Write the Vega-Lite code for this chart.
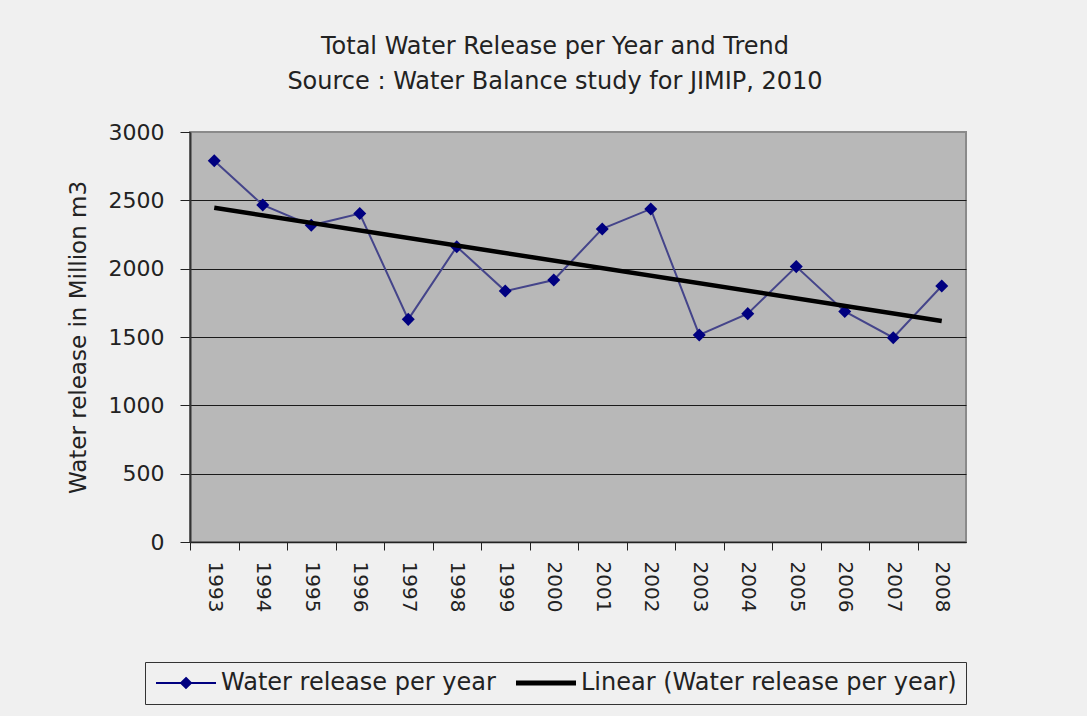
{
  "$schema": "https://vega.github.io/schema/vega-lite/v6.json",
  "autosize": "none",
  "width": 776,
  "height": 410,
  "padding": {"left": 190, "top": 132, "right": 121, "bottom": 174},
  "background": "#f0f0f0",
  "config": {
    "font": "DejaVu Sans",
    "view": {"fill": "#b8b8b8", "stroke": "#8a8a8a", "strokeWidth": 2}
  },
  "title": {
    "text": ["Total Water Release per Year and Trend", "Source : Water Balance study for JIMIP, 2010"],
    "fontSize": 24,
    "fontWeight": "normal",
    "color": "#222222",
    "lineHeight": 35,
    "offset": 27,
    "dx": -23,
    "anchor": "middle"
  },
  "data": {
    "values": [
      {"year": 1993, "value": 2790},
      {"year": 1994, "value": 2466},
      {"year": 1995, "value": 2317},
      {"year": 1996, "value": 2403},
      {"year": 1997, "value": 1629},
      {"year": 1998, "value": 2161},
      {"year": 1999, "value": 1836},
      {"year": 2000, "value": 1917},
      {"year": 2001, "value": 2291},
      {"year": 2002, "value": 2437},
      {"year": 2003, "value": 1515},
      {"year": 2004, "value": 1671},
      {"year": 2005, "value": 2015},
      {"year": 2006, "value": 1687},
      {"year": 2007, "value": 1495},
      {"year": 2008, "value": 1873}
    ]
  },
  "encoding": {
    "x": {
      "field": "year",
      "type": "quantitative",
      "scale": {"domain": [1992.5, 2008.5], "nice": false, "zero": false},
      "axis": {
        "values": [1993, 1994, 1995, 1996, 1997, 1998, 1999, 2000, 2001, 2002, 2003, 2004, 2005, 2006, 2007, 2008],
        "format": "d",
        "labelAngle": 90,
        "labelAlign": "left",
        "labelBaseline": "middle",
        "labelFontSize": 20,
        "labelColor": "#222222",
        "labelFlush": false,
        "labelOverlap": false,
        "labelPadding": 11,
        "tickSize": 8,
        "tickColor": "#222222",
        "tickOffset": -24.25,
        "labelOffset": 24.25,
        "domainColor": "#222222",
        "domainWidth": 1.5,
        "grid": false,
        "title": null
      }
    },
    "y": {
      "field": "value",
      "type": "quantitative",
      "scale": {"domain": [0, 3000], "nice": false},
      "axis": {
        "values": [0, 500, 1000, 1500, 2000, 2500, 3000],
        "format": "d",
        "labelFontSize": 22,
        "labelColor": "#222222",
        "labelPadding": 16,
        "tickSize": 10,
        "tickColor": "#222222",
        "domainColor": "#333333",
        "domainWidth": 2,
        "grid": true,
        "gridColor": {"condition": {"test": "datum.value === 3000", "value": "#8a8a8a"}, "value": "#1a1a1a"},
        "gridWidth": 1.2,
        "gridOpacity": 1,
        "title": "Water release in Million m3",
        "titleFontSize": 23,
        "titleFontWeight": "normal",
        "titleColor": "#222222",
        "titlePadding": 18
      }
    }
  },
  "layer": [
    {
      "mark": {"type": "line", "color": "#44448a", "strokeWidth": 2}
    },
    {
      "mark": {"type": "point", "shape": "diamond", "filled": true, "size": 170, "opacity": 1},
      "encoding": {
        "color": {
          "datum": "Water release per year",
          "type": "nominal",
          "scale": {"domain": ["Water release per year", "Linear (Water release per year)"], "range": ["#000080", "#000000"]},
          "legend": {
            "title": null,
            "orient": "none",
            "legendX": -45,
            "legendY": 530,
            "direction": "horizontal",
            "labelFontSize": 24,
            "labelColor": "#222222",
            "labelLimit": 600,
            "symbolSize": 900,
            "symbolType": "M-1,0H3",
            "symbolOffset": 5,
            "labelOffset": 38,
            "columnPadding": 10,
            "padding": 9,
            "strokeColor": "#333333",
            "fillColor": "#f0f0f0",
            "encode": {
              "symbols": {
                "update": {
                  "shape": {"signal": "datum.value === 'Linear (Water release per year)' ? 'M-1,0H3' : 'M-1,0H3M1,-0.33L1.33,0L1,0.33L0.67,0Z'"},
                  "stroke": {"signal": "datum.value === 'Linear (Water release per year)' ? '#000000' : '#000080'"},
                  "fill": {"signal": "datum.value === 'Linear (Water release per year)' ? 'transparent' : '#000080'"},
                  "strokeWidth": {"signal": "datum.value === 'Linear (Water release per year)' ? 5 : 2"},
                  "opacity": {"value": 1},
                  "fillOpacity": {"value": 1},
                  "strokeOpacity": {"value": 1}
                }
              }
            }
          }
        }
      }
    },
    {
      "transform": [{"regression": "value", "on": "year"}],
      "mark": {"type": "line", "strokeWidth": 4.5},
      "encoding": {
        "color": {
          "datum": "Linear (Water release per year)",
          "type": "nominal",
          "legend": {
            "title": null,
            "orient": "none",
            "legendX": -45,
            "legendY": 530,
            "direction": "horizontal",
            "labelFontSize": 24,
            "labelColor": "#222222",
            "labelLimit": 600,
            "symbolSize": 900,
            "symbolType": "M-1,0H3",
            "symbolOffset": 5,
            "labelOffset": 38,
            "columnPadding": 10,
            "padding": 9,
            "strokeColor": "#333333",
            "fillColor": "#f0f0f0",
            "encode": {
              "symbols": {
                "update": {
                  "shape": {"signal": "datum.value === 'Linear (Water release per year)' ? 'M-1,0H3' : 'M-1,0H3M1,-0.33L1.33,0L1,0.33L0.67,0Z'"},
                  "stroke": {"signal": "datum.value === 'Linear (Water release per year)' ? '#000000' : '#000080'"},
                  "fill": {"signal": "datum.value === 'Linear (Water release per year)' ? 'transparent' : '#000080'"},
                  "strokeWidth": {"signal": "datum.value === 'Linear (Water release per year)' ? 5 : 2"},
                  "opacity": {"value": 1},
                  "fillOpacity": {"value": 1},
                  "strokeOpacity": {"value": 1}
                }
              }
            }
          }
        }
      }
    }
  ]
}
